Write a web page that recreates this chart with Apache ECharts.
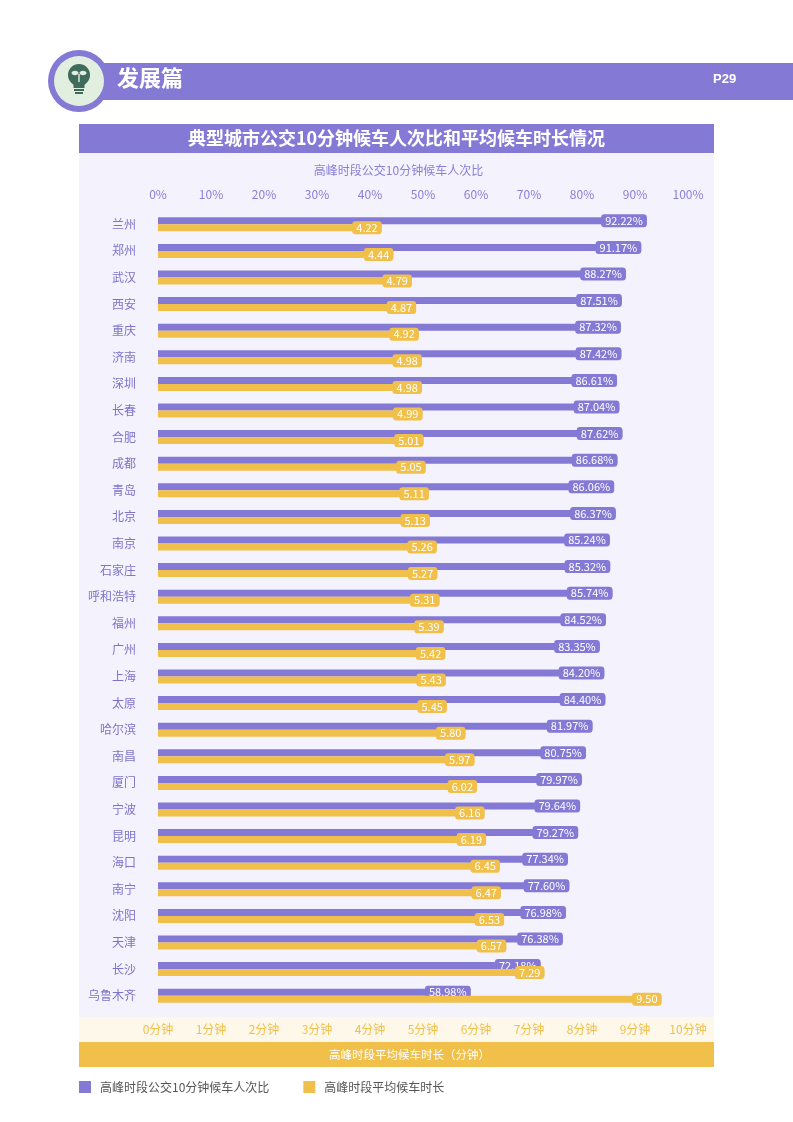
<!DOCTYPE html>
<html>
<head>
<meta charset="utf-8">
<script src="https://cdn.jsdelivr.net/npm/echarts@6/dist/echarts.min.js"></script>
<style>
html,body{margin:0;padding:0;background:#fff;}
#c{width:793px;height:1122px;}
</style>
</head>
<body>
<div id="c"></div>
<script>
const cities = ['兰州','郑州','武汉','西安','重庆','济南','深圳','长春','合肥','成都','青岛','北京','南京','石家庄','呼和浩特','福州','广州','上海','太原','哈尔滨','南昌','厦门','宁波','昆明','海口','南宁','沈阳','天津','长沙','乌鲁木齐'];
const ratio10min = [92.22,91.17,88.27,87.51,87.32,87.42,86.61,87.04,87.62,86.68,86.06,86.37,85.24,85.32,85.74,84.52,83.35,84.20,84.40,81.97,80.75,79.97,79.64,79.27,77.34,77.60,76.98,76.38,72.18,58.98];
const avgWait = [4.22,4.44,4.79,4.87,4.92,4.98,4.98,4.99,5.01,5.05,5.11,5.13,5.26,5.27,5.31,5.39,5.42,5.43,5.45,5.80,5.97,6.02,6.16,6.19,6.45,6.47,6.53,6.57,7.29,9.50];
const pctTicks = ['0%','10%','20%','30%','40%','50%','60%','70%','80%','90%','100%'];
const minTicks = ['0分钟','1分钟','2分钟','3分钟','4分钟','5分钟','6分钟','7分钟','8分钟','9分钟','10分钟'];
const seriesNames = ['高峰时段公交10分钟候车人次比','高峰时段平均候车时长'];

const PURPLE = '#847ad6';
const YELLOW = '#f1c04b';
const FONT = '"Noto Sans CJK SC","Noto Sans",sans-serif';

const chart = echarts.init(document.getElementById('c'), null, {renderer:'canvas'});

const graphic = [
  // page header band
  {type:'rect', shape:{x:95,y:63,width:698,height:37}, style:{fill:PURPLE}, z:1},
  {type:'circle', shape:{cx:79,cy:81,r:31}, style:{fill:PURPLE}, z:2},
  {type:'circle', shape:{cx:79,cy:81,r:25}, style:{fill:'#e2efe0'}, z:3},
  // bulb icon
  {type:'circle', shape:{cx:79,cy:75,r:11}, style:{fill:'#3e6b5b'}, z:4},
  {type:'rect', shape:{x:73.5,y:82,width:11,height:6}, style:{fill:'#3e6b5b'}, z:4},
  {type:'rect', shape:{x:74,y:89,width:10,height:2}, style:{fill:'#3e6b5b'}, z:4},
  {type:'rect', shape:{x:75,y:92,width:8,height:2}, style:{fill:'#3e6b5b'}, z:4},
  {type:'ellipse', shape:{cx:75,cy:73,rx:3.5,ry:2.2}, style:{fill:'#e2efe0'}, z:5},
  {type:'ellipse', shape:{cx:83,cy:73,rx:3.5,ry:2.2}, style:{fill:'#e2efe0'}, z:5},
  {type:'rect', shape:{x:78.3,y:74,width:1.4,height:8}, style:{fill:'#e2efe0'}, z:5},
  {type:'text', left:117, top:67, style:{text:'发展篇', fill:'#fff', font:'bold 22px '+FONT}, z:5},
  {type:'text', left:713, top:73, style:{text:'P29', fill:'#fff', font:'bold 13px "Liberation Sans",Arial,sans-serif'}, z:5},
  // chart panel
  {type:'rect', shape:{x:79,y:124,width:635,height:29}, style:{fill:PURPLE}, z:0},
  {type:'rect', shape:{x:79,y:153,width:635,height:864}, style:{fill:'#f4f2fd'}, z:0},
  {type:'rect', shape:{x:79,y:1017,width:635,height:25}, style:{fill:'#fdf8ea'}, z:0},
  {type:'rect', shape:{x:79,y:1042,width:635,height:25}, style:{fill:YELLOW}, z:0},
  {type:'text', x:409.5, y:1055, style:{text:'高峰时段平均候车时长（分钟）', fill:'#fff', font:'11.5px '+FONT, textAlign:'center', textVerticalAlign:'middle'}, z:5},
  {type:'text', x:398.5, y:170, style:{text:'高峰时段公交10分钟候车人次比', fill:'#8a80d8', font:'12px '+FONT, textAlign:'center', textVerticalAlign:'middle'}, z:5}
];

function labelCfg(bg, fmt){
  return {
    show:true, position:'insideRight', distance:0,
    backgroundColor:bg, borderRadius:3, padding:[1,4,1,4],
    color:'#fff', fontSize:11, fontFamily:FONT, formatter:fmt
  };
}

chart.setOption({
  animation:false,
  backgroundColor:'#ffffff',
  title:{
    text:'典型城市公交10分钟候车人次比和平均候车时长情况',
    left:'center', top:127,
    textStyle:{color:'#fff', fontSize:18, fontWeight:'bold', fontFamily:FONT, lineHeight:22},
    padding:0
  },
  graphic:graphic,
  legend:{
    left:79, top:1081, padding:0, itemWidth:12, itemHeight:12, icon:'rect', itemGap:34,
    textStyle:{color:'#555', fontSize:12, fontFamily:FONT, padding:[0,0,0,4]},
    data:seriesNames
  },
  grid:{left:158, width:530, top:211, height:798, containLabel:false},
  xAxis:[
    {type:'value', position:'top', min:0, max:100, interval:10,
     axisLine:{show:false}, axisTick:{show:false}, splitLine:{show:false},
     axisLabel:{margin:11, color:'#8a80d8', fontSize:12, fontFamily:FONT,
       formatter:function(v){return pctTicks[Math.round(v/10)];}}},
    {type:'value', position:'bottom', min:0, max:10, interval:1,
     axisLine:{show:false}, axisTick:{show:false}, splitLine:{show:false},
     axisLabel:{margin:14, color:YELLOW, fontSize:12, fontFamily:FONT,
       formatter:function(v){return minTicks[Math.round(v)];}}}
  ],
  yAxis:{
    type:'category', inverse:true, data:cities,
    axisLine:{show:false}, axisTick:{show:false}, splitLine:{show:false},
    axisLabel:{margin:22, color:'#7d74c9', fontSize:12, fontFamily:FONT}
  },
  series:[
    {name:seriesNames[0], type:'bar', xAxisIndex:0, data:ratio10min,
     barWidth:7, barGap:'0%', itemStyle:{color:PURPLE}, z:2,
     label:labelCfg(PURPLE, function(p){return p.value.toFixed(2)+'%';})},
    {name:seriesNames[1], type:'bar', xAxisIndex:1, data:avgWait,
     barWidth:7, barGap:'0%', itemStyle:{color:YELLOW}, z:3,
     label:labelCfg(YELLOW, function(p){return p.value.toFixed(2);})}
  ]
});
</script>
</body>
</html>
